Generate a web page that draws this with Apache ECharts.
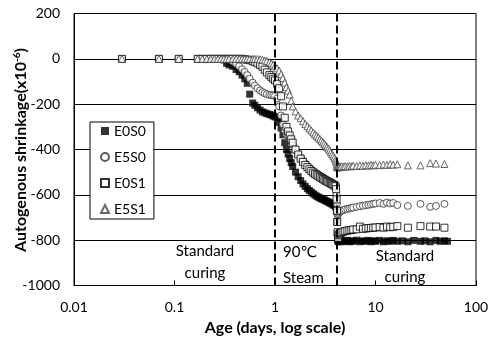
<!DOCTYPE html>
<html><head><meta charset="utf-8">
<script src="https://cdn.jsdelivr.net/npm/echarts@6/dist/echarts.min.js"></script>
<style>html,body{margin:0;padding:0;background:#fff}#c{width:495px;height:337px}</style>
</head><body><div id="c"></div>
<script>
// Age in days (shared by all series)
const ages = [
  0.03,0.07,0.11,0.17,0.19,0.21,0.23,0.25,0.27,0.29,0.31,
  0.33,0.35,0.38,0.41,0.44,0.47,0.5,0.53,0.56,0.6,0.63,0.67,0.71,0.75,0.79,0.83,0.88,0.92,0.96,1.0,
  1.05,1.1,1.15,1.2,1.25,1.3,1.35,1.4,1.45,1.5,
  1.6,1.7,1.8,1.9,2.0,2.1,2.2,2.3,2.4,2.5,2.6,2.7,2.8,2.9,3.0,3.1,3.2,3.3,3.4,3.5,3.6,3.7,3.8,3.9,4.0,
  4.05,4.1,4.13,4.16,
  4.2,4.25,4.3,4.4,4.5,4.6,4.8,5.0,5.25,5.5,5.75,6.0,6.5,7.0,7.5,8.0,8.5,9.0,9.5,10,11,12,13,14,15,
  16.5,18.5,21,24,28,31,35,40,44,48.5,52
];
const e0s0 = [
  0,0,0,0,0,0,0,0,-1,-2,-5,
  -20,-27,-33,-47,-57,-72,-88,-108,-156,-195,-205,-216,-226,-234,-238,-242,-245,-248,-252,-256,
  -262,-280,-305,-335,-370,-400,-420,-440,-458,-475,
  -500,-520,-537,-552,-563,-573,-581,-588,-595,-601,-606,-610,-614,-617,-620,-623,-626,-629,-632,-635,-638,-641,-644,-647,-650,
  -655,-670,-720,-770,
  -800,-807,-803,-805,-801,-807,-803,-805,-801,-807,-803,-805,-800,-807,-803,-805,-801,-807,-803,-805,-801,-807,-803,-805,-801,
  -805,-803,-807,-801,-805,-803,-807,-801,-805,-803,-805
];
const e5s0 = [
  0,0,0,0,0,0,0,0,0,0,0,
  -2,-4,-12,-22,-33,-46,-58,-72,-88,-105,-118,-130,-140,-147,-152,-156,-159,-160,-161,-163,
  -175,-210,-250,-290,-315,-335,-345,-355,-365,-378,
  -400,-420,-436,-450,-462,-472,-481,-489,-495,-500,-505,-510,-515,-519,-523,-527,-531,-535,-538,-541,-544,-547,-550,-553,-556,
  -560,-600,-640,-680,
  -690,-685,-680,-676,-673,-670,-667,-664,-662,-660,-658,-656,-653,-650,-648,-646,-644,-642,-640,-638,-636,-640,-634,-638,-636,
  -645,null,-649,null,-640,null,-653,-649,null,-640,null
];
const e0s1 = [
  0,0,0,0,0,0,0,0,0,0,0,
  0,0,0,0,0,0,-2,-4,-6,-10,-14,-20,-27,-35,-48,-60,-72,-80,-88,-95,
  -110,-130,-165,-210,-260,-300,-320,-338,-355,-370,
  -400,-422,-440,-455,-468,-478,-487,-495,-502,-508,-513,-518,-522,-526,-530,-534,-538,-541,-544,-547,-550,-553,-556,-559,-562,
  -575,-620,-670,-720,
  -765,-790,-778,-772,-768,-765,-762,-760,-758,-756,-755,-753,-752,-740,-750,-748,-747,-746,-745,-744,-742,-745,-740,-743,-741,
  -738,null,-745,null,-738,null,-740,-740,null,-745,null
];
const e5s1 = [
  0,0,0,0,0,0,0,0,0,0,0,
  0,0,0,0,0,0,0,0,0,0,0,0,-2,-4,-7,-10,-15,-20,-26,-33,
  -42,-52,-68,-85,-105,-125,-140,-158,-185,-210,
  -232,-250,-262,-275,-287,-297,-307,-316,-325,-333,-340,-347,-354,-361,-368,-375,-382,-389,-396,-403,-412,-420,-428,-436,-444,
  -452,-462,-472,-478,
  -478,-476,-479,-475,-477,-474,-476,-473,-475,-472,-474,-471,-473,-470,-472,-469,-471,-468,-470,-467,-469,-466,-468,-465,-467,
  -465,null,-470,null,-470,null,-460,-462,null,-464,null
];
const seriesNames = ['E0S0','E5S0','E0S1','E5S1'];
const steamStart = 1;
const steamEnd = 4.15;
const yMin = -1000, yMax = 200, yStep = 200;

const FONT = 'Lato, "DejaVu Sans", sans-serif';
function pts(vals){
  const out = [];
  for (let i = 0; i < ages.length; i++) if (vals[i] !== null) out.push([ages[i], vals[i]]);
  return out;
}
function mk(name, vals, symbol, style){
  return {
    name, type:'scatter', data: pts(vals), symbol, symbolSize: 7,
    itemStyle: style, emphasis:{disabled:true}, silent:true
  };
}
const series = [
  mk(seriesNames[0], e0s0, 'rect', {color:'#000'}),
  mk(seriesNames[1], e5s0, 'circle', {color:'#fff', borderColor:'#333', borderWidth:1}),
  mk(seriesNames[2], e0s1, 'rect', {color:'#fff', borderColor:'#000', borderWidth:1}),
  mk(seriesNames[3], e5s1, 'triangle', {color:'#fff', borderColor:'#444', borderWidth:1})
];
series[0].markLine = {
  silent:true, symbol:['none','none'], label:{show:false},
  lineStyle:{color:'#000', width:2, type:[8,4]},
  data:[{xAxis: steamStart},{xAxis: steamEnd}]
};

const chart = echarts.init(document.getElementById('c'), null, {renderer:'canvas'});
chart.setOption({
  animation:false,
  backgroundColor:'#fff',
  grid:{left:74, right:19, top:13.5, bottom:51.5, containLabel:false, outerBoundsMode:'none',
        show:true, borderColor:'#000', borderWidth:1, backgroundColor:'transparent'},
  xAxis:{
    type:'log', logBase:10, min:0.01, max:100,
    name:'Age (days, log scale)', nameLocation:'middle', nameGap:26,
    nameTextStyle:{fontFamily:FONT, fontSize:16, fontWeight:'bold', color:'#000'},
    axisLine:{show:true, onZero:false, lineStyle:{color:'#000', width:1}},
    axisTick:{show:true, inside:true, length:5, lineStyle:{color:'#000'}},
    minorTick:{show:false},
    splitLine:{show:false},
    axisLabel:{fontFamily:FONT, fontSize:14, color:'#000', margin:15}
  },
  yAxis:{
    type:'value', min:yMin, max:yMax, interval:yStep,
    axisLine:{show:true, onZero:false, lineStyle:{color:'#000', width:1}},
    axisTick:{show:false},
    splitLine:{show:true, lineStyle:{color:'#000', width:1}},
    axisLabel:{fontFamily:FONT, fontSize:14, color:'#000', margin:14, formatter:(v)=>String(v)}
  },
  legend:{
    data:seriesNames, orient:'vertical', left:90, top:122,
    itemWidth:8, itemHeight:8, itemGap:12,
    padding:[2,8,3,10],
    backgroundColor:'#fff', borderColor:'#000', borderWidth:1,
    textStyle:{fontFamily:FONT, fontSize:14, color:'#000'},
    selectedMode:false
  },
  graphic:[
    {type:'text', x:21, y:150, rotation:Math.PI/2, silent:true,
     style:{text:'{a|Autogenous shrinkage(x10}{s|-6}{a|)}', align:'center', verticalAlign:'middle',
            rich:{a:{fontFamily:FONT, fontSize:16, fontWeight:'bold', fill:'#000', lineHeight:18},
                  s:{fontFamily:FONT, fontSize:10, fontWeight:'bold', fill:'#000', verticalAlign:'top', lineHeight:18}}}},
    {type:'text', x:205, y:262, silent:true, style:{text:'Standard\ncuring', align:'center', verticalAlign:'middle', lineHeight:22, font:'15px ' + FONT, fill:'#000'}},
    {type:'text', x:283, y:265, silent:true, style:{text:'90℃\nSteam', align:'left', verticalAlign:'middle', lineHeight:26, font:'15px ' + FONT, fill:'#000'}},
    {type:'text', x:405, y:267, silent:true, style:{text:'Standard\ncuring', align:'center', verticalAlign:'middle', lineHeight:21, font:'15px ' + FONT, fill:'#000'}}
  ],
  series
});
</script></body></html>
